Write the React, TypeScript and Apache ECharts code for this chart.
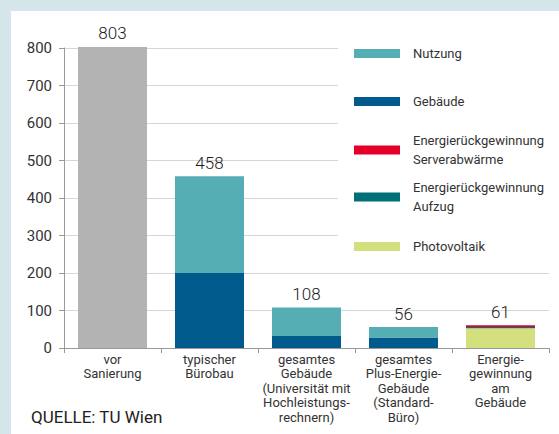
import React, { useEffect, useRef } from "react";
import * as echarts from "echarts";

const categories = [
  "vor\nSanierung",
  "typischer\nBürobau",
  "gesamtes\nGebäude\n(Universität mit\nHochleistungs-\nrechnern)",
  "gesamtes\nPlus-Energie-\nGebäude\n(Standard-\nBüro)",
  "Energie-\ngewinnung\nam\nGebäude",
];
const vorSanierung: (number | string)[] = [803, "-", "-", "-", "-"];
const gebaeude: (number | string)[] = ["-", 200, 32, 28, "-"];
const nutzung: (number | string)[] = ["-", 258, 76, 28, "-"];
const photovoltaik: (number | string)[] = ["-", "-", "-", "-", 53];
const aufzug: (number | string)[] = ["-", "-", "-", "-", 3];
const serverabwaerme: (number | string)[] = ["-", "-", "-", "-", 5];
const yMin = 0;
const yMax = 800;
const yInterval = 100;

const num = (v: number | string) => (typeof v === "number" ? v : 0);
const totals = categories.map(
  (_, i) =>
    num(vorSanierung[i]) +
    num(gebaeude[i]) +
    num(nutzung[i]) +
    num(photovoltaik[i]) +
    num(aufzug[i]) +
    num(serverabwaerme[i])
);

const FONT = "Roboto";
const TXT = "#333";

export default function App() {
  const ref = useRef<HTMLDivElement>(null);
  useEffect(() => {
    document.body.style.margin = "0";
    if (!ref.current) return;
    const chart = echarts.init(ref.current, undefined, { renderer: "svg" });
    const barW = 69;
    const legendCommon = {
      orient: "vertical",
      left: 343,
      padding: 0,
      itemWidth: 46,
      itemHeight: 9,
      icon: "rect",
      selectedMode: false,
      textStyle: {
        fontFamily: FONT,
        fontSize: 13,
        color: TXT,
        lineHeight: 19,
        padding: [0, 0, 0, 8],
      },
    };
    chart.setOption({
      animation: false,
      textStyle: { fontFamily: FONT },
      grid: { left: 53, right: 10, top: 37, bottom: 86, containLabel: false },
      graphic: [
        {
          type: "rect",
          z: 1,
          shape: { x: 327, y: 0, width: 221, height: 245 },
          style: { fill: "#ffffff" },
          silent: true,
        },
        {
          type: "text",
          left: 20,
          top: 397,
          style: {
            text: "QUELLE: TU Wien",
            fontFamily: FONT,
            fontSize: 17,
            fill: "#222",
          },
        },
      ],
      legend: [
        { ...legendCommon, top: 33, data: ["Nutzung"] },
        { ...legendCommon, top: 81, data: ["Gebäude"] },
        { ...legendCommon, top: 120, data: ["Energierückgewinnung\nServerabwärme"] },
        { ...legendCommon, top: 167, data: ["Energierückgewinnung\nAufzug"] },
        { ...legendCommon, top: 226, data: ["Photovoltaik"] },
      ],
      xAxis: {
        type: "category",
        data: categories,
        axisLine: { lineStyle: { color: "#999", width: 1 } },
        axisTick: { show: true, length: 5, lineStyle: { color: "#999" } },
        axisLabel: {
          interval: 0,
          margin: 4,
          fontFamily: FONT,
          fontSize: 13,
          lineHeight: 14.5,
          color: TXT,
        },
      },
      yAxis: {
        type: "value",
        min: yMin,
        max: yMax,
        interval: yInterval,
        axisLine: { show: true, lineStyle: { color: "#999" } },
        axisTick: { show: true, length: 5, lineStyle: { color: "#999" } },
        splitLine: { lineStyle: { color: "#d6d6d6" } },
        axisLabel: {
          margin: 12,
          fontFamily: FONT,
          fontSize: 15,
          color: TXT,
        },
      },
      series: [
        {
          name: "vor Sanierung",
          type: "bar",
          stack: "s",
          barWidth: barW,
          clip: false,
          data: vorSanierung,
          itemStyle: { color: "#b3b3b3" },
        },
        {
          name: "Gebäude",
          type: "bar",
          stack: "s",
          barWidth: barW,
          data: gebaeude,
          itemStyle: { color: "#005b8c" },
        },
        {
          name: "Nutzung",
          type: "bar",
          stack: "s",
          barWidth: barW,
          data: nutzung,
          itemStyle: { color: "#55aeb4" },
        },
        {
          name: "Photovoltaik",
          type: "bar",
          stack: "s",
          barWidth: barW,
          data: photovoltaik,
          itemStyle: { color: "#d4df7e" },
        },
        {
          name: "Energierückgewinnung\nAufzug",
          type: "bar",
          stack: "s",
          barWidth: barW,
          data: aufzug,
          itemStyle: { color: "#007078" },
        },
        {
          name: "Energierückgewinnung\nServerabwärme",
          type: "bar",
          stack: "s",
          barWidth: barW,
          data: serverabwaerme,
          itemStyle: { color: "#e4002b" },
        },
        {
          name: "Summe",
          type: "bar",
          stack: "s",
          barWidth: barW,
          clip: false,
          data: totals.map(() => 0),
          itemStyle: { color: "rgba(0,0,0,0)", borderWidth: 0 },
          label: {
            show: true,
            position: "top",
            distance: 5,
            fontFamily: FONT,
            fontSize: 17,
            fontWeight: 350,
            color: "#1a1a1a",
            textBorderWidth: 0,
            textBorderColor: "rgba(0,0,0,0)",
            formatter: (p: any) => String(totals[p.dataIndex]),
          },
        },
      ],
    });
    return () => chart.dispose();
  }, []);
  return (
    <div
      style={{
        width: 559,
        height: 434,
        background: "#d5e6ea",
        position: "relative",
        overflow: "hidden",
      }}
    >
      <div
        ref={ref}
        style={{
          position: "absolute",
          left: 11,
          top: 11,
          width: 548,
          height: 423,
          background: "#ffffff",
        }}
      />
    </div>
  );
}
